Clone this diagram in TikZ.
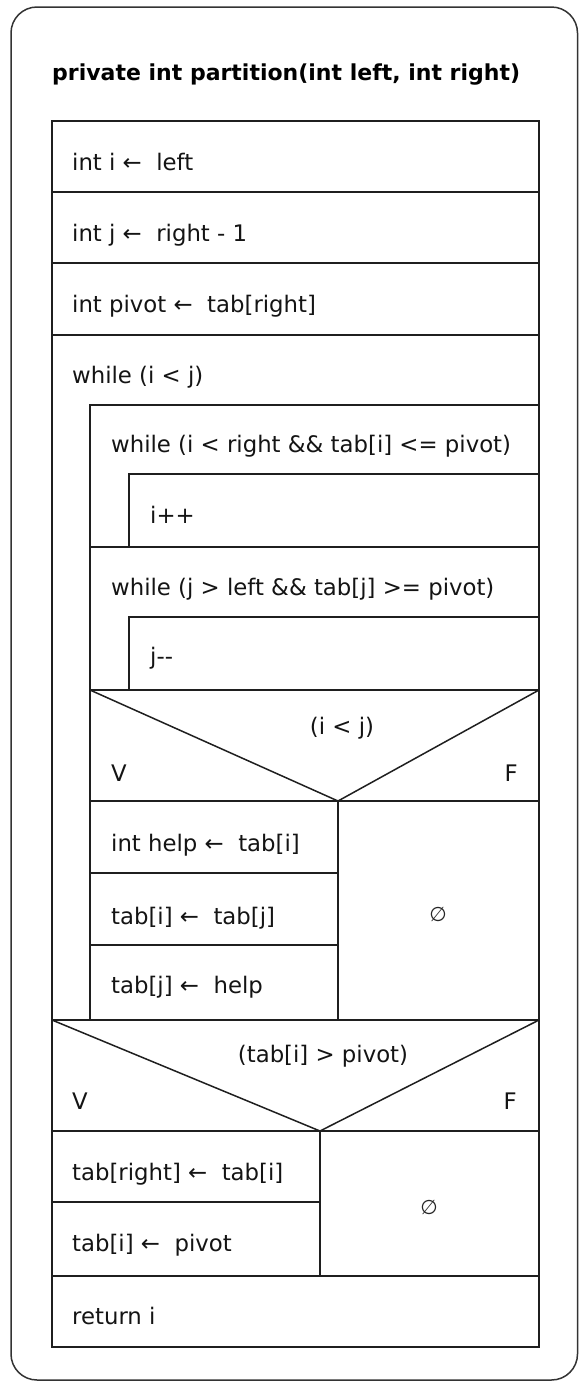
\documentclass[tikz,border=0pt]{standalone}
\usepackage{fontspec}
\setmainfont{DejaVu Sans}
\begin{document}
\begin{tikzpicture}[x=1pt,y=-1pt,
  box/.style={draw=black!88, line width=1.5pt},
  txt/.style={anchor=base west, inner sep=0pt, text=black!92, font=\fontsize{22.8}{27}\selectfont},
  ctxt/.style={anchor=base, inner sep=0pt, text=black!92, font=\fontsize{22.8}{27}\selectfont},
  rtxt/.style={anchor=base east, inner sep=0pt, text=black!92, font=\fontsize{22.8}{27}\selectfont},
  empty/.style={anchor=center, inner sep=0pt, text=black!85, font=\fontsize{20}{24}\selectfont}]
\useasboundingbox (0,0) rectangle (579,1382);
% outer frame
\draw[draw=black!80, line width=1.5pt, rounded corners=26pt] (11,7) rectangle (577.5,1380);
\node[anchor=base west, inner sep=0pt, font=\bfseries\fontsize{22}{26}\selectfont] (title) at (52,80) {private int partition(int left, int right)};
% main column
\draw[box] (52,121) rectangle (539,1347);
\draw[box] (52,192) -- (539,192);
\draw[box] (52,263) -- (539,263);
\draw[box] (52,335) -- (539,335);
% outer while
\draw[box] (90,1020) -- (90,405) -- (539,405);
% inner while 1
\draw[box] (129,547) -- (129,474) -- (539,474);
\draw[box] (90,547) -- (539,547);
% inner while 2
\draw[box] (129,690) -- (129,617) -- (539,617);
\draw[box] (90,690) -- (539,690);
% if 1
\draw[box] (90,690) -- (338,801) -- (539,690);
\draw[box] (90,801) -- (539,801);
\draw[box] (338,801) -- (338,1020);
\draw[box] (90,873) -- (338,873);
\draw[box] (90,945) -- (338,945);
\draw[box] (52,1020) -- (539,1020);
% if 2
\draw[box] (52,1020) -- (320,1131) -- (539,1020);
\draw[box] (52,1131) -- (539,1131);
\draw[box] (320,1131) -- (320,1276);
\draw[box] (52,1202) -- (320,1202);
\draw[box] (52,1276) -- (539,1276);
% texts
\node[txt] (t1) at (72,170) {int i ←\ \ left};
\node[txt] (t2) at (72,241) {int j ←\ \ right - 1};
\node[txt] (t3) at (72,312) {int pivot ←\ \ tab[right]};
\node[txt] (t4) at (72,383) {while (i < j)};
\node[txt] (t5) at (111,452) {while (i < right \&\& tab[i] <= pivot)};
\node[txt] (t6) at (150,523) {i++};
\node[txt] (t7) at (111,595) {while (j > left \&\& tab[j] >= pivot)};
\node[txt] (t8) at (150,664) {j-{}-};
\node[ctxt] (c1) at (342,734) {(i < j)};
\node[txt] (v1) at (111,781) {V};
\node[rtxt] (f1) at (518,781) {F};
\node[txt] (t9) at (111,851) {int help ←\ \ tab[i]};
\node[txt] (t10) at (111,924) {tab[i] ←\ \ tab[j]};
\node[txt] (t11) at (111,993) {tab[j] ←\ \ help};
\node[empty] (e1) at (438,914) {∅};
\node[ctxt] (c2) at (323,1062) {(tab[i] > pivot)};
\node[txt] (v2) at (72,1109) {V};
\node[rtxt] (f2) at (517,1109) {F};
\node[txt] (t12) at (72,1180) {tab[right] ←\ \ tab[i]};
\node[txt] (t13) at (72,1251) {tab[i] ←\ \ pivot};
\node[empty] (e2) at (429,1207) {∅};
\node[txt] (t14) at (72,1324) {return i};
\end{tikzpicture}
\end{document}
